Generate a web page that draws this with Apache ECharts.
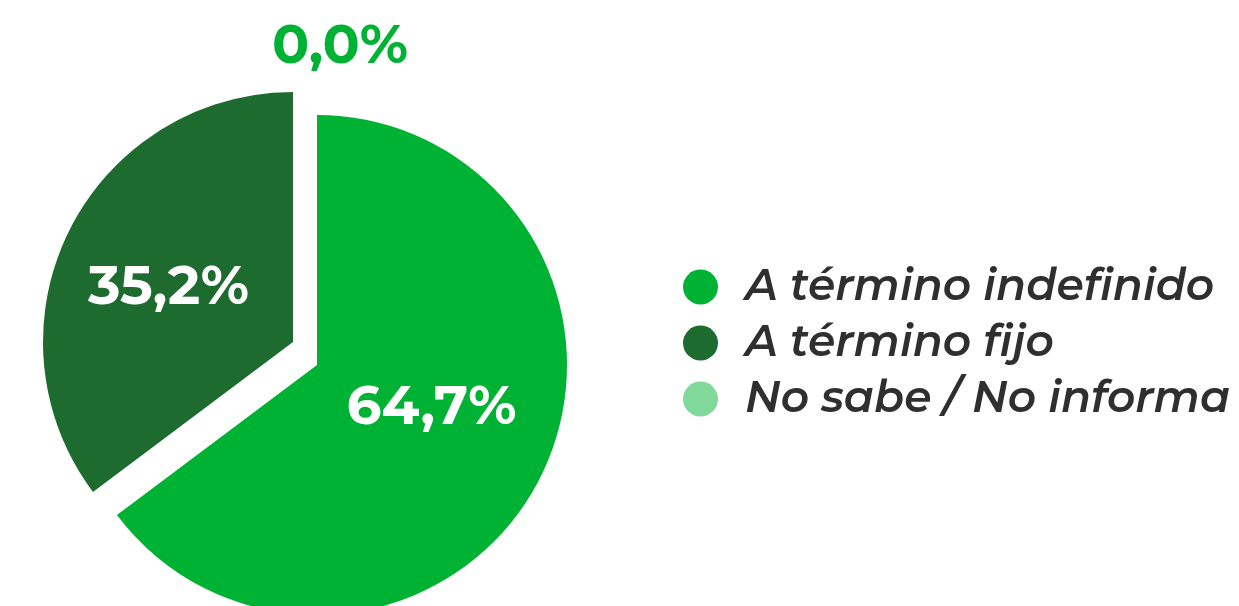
<!DOCTYPE html>
<html>
<head>
<meta charset="utf-8">
<script src="https://cdn.jsdelivr.net/npm/echarts@6/dist/echarts.min.js"></script>
<style>
html,body{margin:0;padding:0;background:#fff;}
#chart{width:1239px;height:606px;}
</style>
</head>
<body>
<div id="chart"></div>
<script>
const categories = ['A término indefinido', 'A término fijo', 'No sabe / No informa'];
const values = [64.7, 35.2, 0.0];
const colors = ['#00B233', '#1E6B30', '#80D99B'];

const FONT = "Montserrat, 'DejaVu Sans', sans-serif";
const fmt = p => p.value.toFixed(1).replace('.', ',') + '%';

// index of the slice drawn detached (exploded)
const detached = 1;
const labelOffsets = [[0, -14], [-10, 3], [126, -53]];

function buildData(showDetached) {
  return categories.map((name, i) => {
    const visible = (i === detached) === showDetached;
    const isZero = values[i] === 0;
    return {
      name: name,
      value: values[i],
      itemStyle: { color: visible ? colors[i] : 'rgba(0,0,0,0)' },
      label: visible ? (isZero ? {
        show: true, position: 'outside', color: colors[0], fontSize: 55,
        fontWeight: 'bold', fontFamily: FONT, formatter: fmt, offset: labelOffsets[i]
      } : {
        show: true, position: 'inside', color: '#ffffff', fontSize: 55,
        fontWeight: 'bold', fontFamily: FONT, formatter: fmt, offset: labelOffsets[i]
      }) : { show: false },
      labelLine: { show: false }
    };
  });
}

const chart = echarts.init(document.getElementById('chart'));
chart.setOption({
  animation: false,
  legend: {
    orient: 'vertical',
    left: 678,
    top: 260,
    icon: 'circle',
    itemWidth: 35,
    itemHeight: 35,
    itemGap: 12,
    selectedMode: false,
    textStyle: { fontSize: 44, fontStyle: 'italic', fontWeight: 600, color: '#2f2f2f', fontFamily: FONT, padding: [0, 0, 0, 22] },
    data: categories.map((name, i) => ({ name: name, itemStyle: { color: colors[i] } }))
  },
  series: [
    {
      type: 'pie',
      center: [317, 365],
      radius: 250,
      startAngle: 90,
      clockwise: true,
      silent: true,
      avoidLabelOverlap: false,
      labelLine: { show: false },
      data: buildData(false)
    },
    {
      type: 'pie',
      center: [293, 342],
      radius: 250,
      startAngle: 90,
      clockwise: true,
      silent: true,
      avoidLabelOverlap: false,
      labelLine: { show: false },
      data: buildData(true)
    }
  ]
});
</script>
</body>
</html>
